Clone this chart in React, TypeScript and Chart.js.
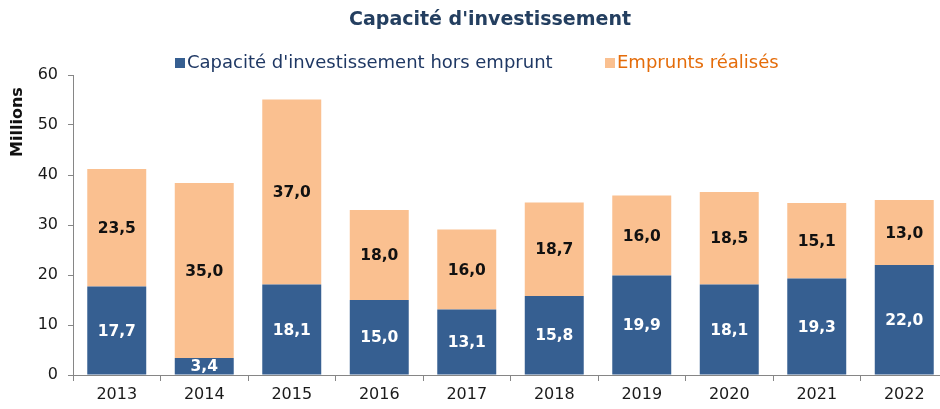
import React, { useEffect, useRef } from "react";
import { Chart, registerables } from "chart.js";

Chart.register(...registerables);

const years = ["2013", "2014", "2015", "2016", "2017", "2018", "2019", "2020", "2021", "2022"];
const capaciteHorsEmprunt = [17.7, 3.4, 18.1, 15.0, 13.1, 15.8, 19.9, 18.1, 19.3, 22.0];
const empruntsRealises = [23.5, 35.0, 37.0, 18.0, 16.0, 18.7, 16.0, 18.5, 15.1, 13.0];
const seriesNames = ["Capacité d'investissement hors emprunt", "Emprunts réalisés"];
const titleText = "Capacité d'investissement";
const axisTitle = "Millions";

const BLUE = "#365F91";
const ORANGE = "#FAC090";
const FONT = "'DejaVu Sans', Arial, sans-serif";

const decor = {
  id: "decor",
  afterDatasetsDraw(chart: any) {
    const ctx = chart.ctx;
    ctx.save();
    // data labels
    chart.data.datasets.forEach((ds: any, di: number) => {
      const meta = chart.getDatasetMeta(di);
      meta.data.forEach((el: any, i: number) => {
        const v = ds.data[i];
        const cy = (el.y + el.base) / 2;
        ctx.font = "bold 15.5px " + FONT;
        ctx.textAlign = "center";
        ctx.textBaseline = "middle";
        ctx.fillStyle = di === 0 ? "#FFFFFF" : "#111111";
        ctx.fillText(v.toFixed(1).replace(".", ","), el.x, cy + 1);
      });
    });
    // title
    ctx.font = "bold 19px " + FONT;
    ctx.fillStyle = "#243F60";
    ctx.textAlign = "center";
    ctx.textBaseline = "middle";
    ctx.fillText(titleText, 490, 20);
    // legend
    ctx.font = "18px " + FONT;
    ctx.textAlign = "left";
    ctx.fillStyle = BLUE;
    ctx.fillRect(175, 58, 10, 10);
    ctx.fillStyle = "#1F3864";
    ctx.fillText(seriesNames[0], 187, 63);
    ctx.fillStyle = ORANGE;
    ctx.fillRect(605, 58, 10, 10);
    ctx.fillStyle = "#E46C0A";
    ctx.fillText(seriesNames[1], 617, 63);
    // axis title
    ctx.save();
    ctx.translate(18, 122);
    ctx.rotate(-Math.PI / 2);
    ctx.font = "bold 16px " + FONT;
    ctx.fillStyle = "#111111";
    ctx.textAlign = "center";
    ctx.textBaseline = "middle";
    ctx.fillText(axisTitle, 0, 0);
    ctx.restore();
    ctx.restore();
  },
};

export default function App() {
  const ref = useRef<HTMLCanvasElement | null>(null);
  useEffect(() => {
    document.documentElement.style.overflow = "hidden";
    document.body.style.overflow = "hidden";
    const chart = new Chart(ref.current as HTMLCanvasElement, {
      type: "bar",
      data: {
        labels: years,
        datasets: [
          {
            label: seriesNames[0],
            data: capaciteHorsEmprunt,
            backgroundColor: BLUE,
            barPercentage: 0.674,
            categoryPercentage: 1,
          },
          {
            label: seriesNames[1],
            data: empruntsRealises,
            backgroundColor: ORANGE,
            barPercentage: 0.674,
            categoryPercentage: 1,
          },
        ],
      },
      options: {
        animation: false,
        responsive: false,
        maintainAspectRatio: false,
        layout: { padding: { top: 75, right: 12, left: 0, bottom: 0 } },
        plugins: {
          legend: { display: false },
          title: { display: false },
          tooltip: { enabled: false },
        },
        scales: {
          x: {
            stacked: true,
            afterFit: (s: any) => {
              s.height = 34;
            },
            grid: {
              display: true,
              drawOnChartArea: false,
              drawTicks: true,
              tickLength: 6,
              color: "#868686",
              offset: true,
            },
            border: { display: true, color: "#868686", width: 1 },
            ticks: {
              font: { family: FONT, size: 16 },
              color: "#1a1a1a",
              padding: 4,
            },
          },
          y: {
            stacked: true,
            min: 0,
            max: 60,
            afterFit: (s: any) => {
              s.width = 73;
            },
            grid: {
              display: true,
              drawOnChartArea: false,
              drawTicks: true,
              tickLength: 5,
              color: "#868686",
            },
            border: { display: true, color: "#868686", width: 1 },
            ticks: {
              stepSize: 10,
              font: { family: FONT, size: 16 },
              color: "#1a1a1a",
              padding: 10,
            },
          },
        },
      },
      plugins: [decor],
    });
    return () => chart.destroy();
  }, []);
  return (
    <div style={{ position: "absolute", left: 0, top: 0, width: 960, height: 409 }}>
      <canvas ref={ref} width={960} height={409} style={{ width: 960, height: 409, display: "block" }} />
    </div>
  );
}
